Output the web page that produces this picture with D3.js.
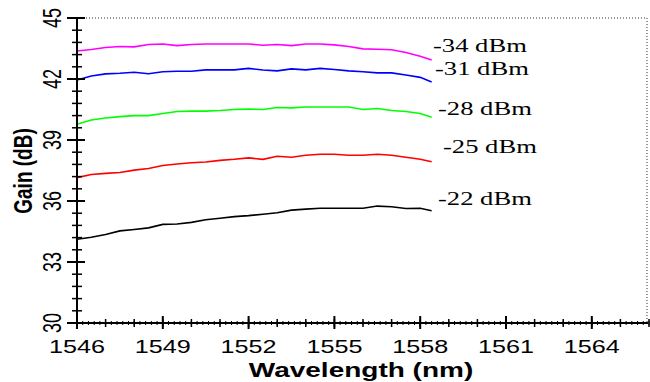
<!DOCTYPE html>
<html>
<head>
<meta charset="utf-8">
<script src="https://cdn.jsdelivr.net/npm/d3@7"></script>
<style>
	body { margin: 0; background: #fff; }
	svg { display: block; }
</style>
</head>
<body>
<div id="chart"></div>
<script>
const wavelengths = [1546, 1546.5, 1547, 1547.5, 1548, 1548.5, 1549, 1549.5, 1550, 1550.5, 1551, 1551.5, 1552,
	1552.5, 1553, 1553.5, 1554, 1554.5, 1555, 1555.5, 1556, 1556.5, 1557, 1557.5, 1558, 1558.4]

// gain (dB) per input signal power
const gain34 = [43.38, 43.45, 43.55, 43.6, 43.58, 43.7, 43.72, 43.64, 43.7, 43.72, 43.72, 43.72, 43.72,
	43.66, 43.7, 43.64, 43.72, 43.72, 43.68, 43.6, 43.48, 43.46, 43.44, 43.3, 43.12, 42.94]
const gain31 = [41.95, 42.15, 42.25, 42.28, 42.33, 42.26, 42.36, 42.38, 42.38, 42.45, 42.45, 42.45, 42.52,
	42.44, 42.4, 42.5, 42.45, 42.52, 42.47, 42.4, 42.36, 42.3, 42.3, 42.2, 42.08, 41.85]
const gain28 = [39.77, 39.98, 40.08, 40.15, 40.2, 40.2, 40.3, 40.4, 40.42, 40.42, 40.45, 40.5, 40.52,
	40.5, 40.6, 40.58, 40.62, 40.62, 40.62, 40.62, 40.5, 40.55, 40.45, 40.4, 40.3, 40.12]
const gain25 = [37.15, 37.3, 37.36, 37.4, 37.52, 37.6, 37.75, 37.82, 37.88, 37.92, 38.0, 38.05, 38.12,
	38.05, 38.2, 38.15, 38.25, 38.3, 38.3, 38.25, 38.25, 38.3, 38.25, 38.15, 38.05, 37.93]
const gain22 = [34.12, 34.22, 34.35, 34.53, 34.6, 34.68, 34.85, 34.87, 34.95, 35.08, 35.15, 35.23, 35.28,
	35.35, 35.42, 35.55, 35.6, 35.64, 35.64, 35.64, 35.64, 35.75, 35.72, 35.63, 35.64, 35.52]

const seriesNames = ['-34 dBm', '-31 dBm', '-28 dBm', '-25 dBm', '-22 dBm']
const seriesValues = [gain34, gain31, gain28, gain25, gain22]

const xTicks = [1546, 1549, 1552, 1555, 1558, 1561, 1564]
const yTicks = [30, 33, 36, 39, 42, 45]

// styling / layout, kept apart from the data
const colors = ['#ff00ff', '#0000ff', '#00ff00', '#ff0000', '#000000']
const labelPos = [[433, 52], [435, 75], [438, 115], [443, 153], [438, 205]]
const stretch = 1.4 // the picture is squeezed wider than tall

const width = 650
const height = 382

const x = d3.scaleLinear().domain([1546, 1566]).range([77, 649])
const y = d3.scaleLinear().domain([30, 45]).range([323, 18])

const svg = d3
	.select('#chart')
	.append('svg')
	.attr('width', width)
	.attr('height', height)

// dotted frame on top and right
svg
	.append('path')
	.attr('d', `M${x(1546)},${y(45)}H647V${y(30)}`)
	.attr('fill', 'none')
	.attr('stroke', '#333')
	.attr('stroke-width', 1)
	.attr('stroke-dasharray', '1,2')

// curves
const line = d3
	.line()
	.x((d, i) => x(wavelengths[i]))
	.y(d => y(d))

svg
	.selectAll('path.curve')
	.data(seriesValues)
	.enter()
	.append('path')
	.classed('curve', true)
	.attr('d', line)
	.attr('fill', 'none')
	.attr('stroke', (d, i) => colors[i])
	.attr('stroke-width', 1.6)

// x axis: tiny ticks every 0.2 nm, medium every 1 nm, major every 3 nm
const xTiny = d3.range(1546, 1566.01, 0.2)
const xMid = d3.range(1546, 1566.01, 1)

svg
	.selectAll('line.xtiny')
	.data(xTiny)
	.enter()
	.append('line')
	.attr('x1', d => x(d))
	.attr('x2', d => x(d))
	.attr('y1', y(30) - 2)
	.attr('y2', y(30) + 2)
	.attr('stroke', '#000')
	.attr('stroke-width', 1)

svg
	.selectAll('line.xmid')
	.data(xMid)
	.enter()
	.append('line')
	.attr('x1', d => x(d))
	.attr('x2', d => x(d))
	.attr('y1', y(30) - 4)
	.attr('y2', y(30) + 4)
	.attr('stroke', '#000')
	.attr('stroke-width', 1.5)

svg
	.selectAll('line.xmajor')
	.data(xTicks)
	.enter()
	.append('line')
	.attr('x1', d => x(d))
	.attr('x2', d => x(d))
	.attr('y1', y(30) - 7)
	.attr('y2', y(30) + 6)
	.attr('stroke', '#000')
	.attr('stroke-width', 2)

svg
	.append('line')
	.attr('x1', x(1546))
	.attr('x2', 648)
	.attr('y1', y(30))
	.attr('y2', y(30))
	.attr('stroke', '#000')
	.attr('stroke-width', 2)

svg
	.selectAll('text.xlabel')
	.data(xTicks)
	.enter()
	.append('text')
	.attr('transform', d => `translate(${x(d)},353) scale(${stretch},1)`)
	.attr('text-anchor', 'middle')
	.style('font-family', '"Liberation Sans", Arial, sans-serif')
	.style('font-size', '18px')
	.text(d => d)

// y axis: minor ticks every 0.6 dB
const yMinor = d3.range(30, 45.01, 0.6)

svg
	.selectAll('line.yminor')
	.data(yMinor)
	.enter()
	.append('line')
	.attr('x1', x(1546) - 5)
	.attr('x2', x(1546) + 5)
	.attr('y1', d => y(d))
	.attr('y2', d => y(d))
	.attr('stroke', '#000')
	.attr('stroke-width', 1.5)

svg
	.selectAll('line.ymajor')
	.data(yTicks)
	.enter()
	.append('line')
	.attr('x1', x(1546) - 10)
	.attr('x2', x(1546) + 8)
	.attr('y1', d => y(d))
	.attr('y2', d => y(d))
	.attr('stroke', '#000')
	.attr('stroke-width', 2)

svg
	.append('line')
	.attr('x1', x(1546))
	.attr('x2', x(1546))
	.attr('y1', y(45))
	.attr('y2', y(30) + 6)
	.attr('stroke', '#000')
	.attr('stroke-width', 2)

svg
	.selectAll('text.ylabel')
	.data(yTicks)
	.enter()
	.append('text')
	.attr('transform', d => `translate(61,${y(d)}) scale(${stretch},1) rotate(-90)`)
	.attr('text-anchor', 'middle')
	.style('font-family', '"Liberation Sans", Arial, sans-serif')
	.style('font-size', '18px')
	.text(d => d)

// axis titles
svg
	.append('text')
	.attr('transform', `translate(32,171) scale(${stretch},1) rotate(-90)`)
	.attr('text-anchor', 'middle')
	.style('font-family', '"Liberation Sans", Arial, sans-serif')
	.style('font-size', '19px')
	.style('font-weight', 'bold')
	.text('Gain (dB)')

svg
	.append('text')
	.attr('transform', `translate(361,377) scale(${stretch},1)`)
	.attr('text-anchor', 'middle')
	.style('font-family', '"Liberation Sans", Arial, sans-serif')
	.style('font-size', '20px')
	.style('font-weight', 'bold')
	.text('Wavelength (nm)')

// power labels next to the curve ends
svg
	.selectAll('text.power')
	.data(seriesNames)
	.enter()
	.append('text')
	.attr('transform', (d, i) => `translate(${labelPos[i][0]},${labelPos[i][1]}) scale(${stretch},1)`)
	.style('font-family', '"Liberation Serif", "Times New Roman", serif')
	.style('font-size', '19px')
	.text(d => d)
</script>
</body>
</html>
